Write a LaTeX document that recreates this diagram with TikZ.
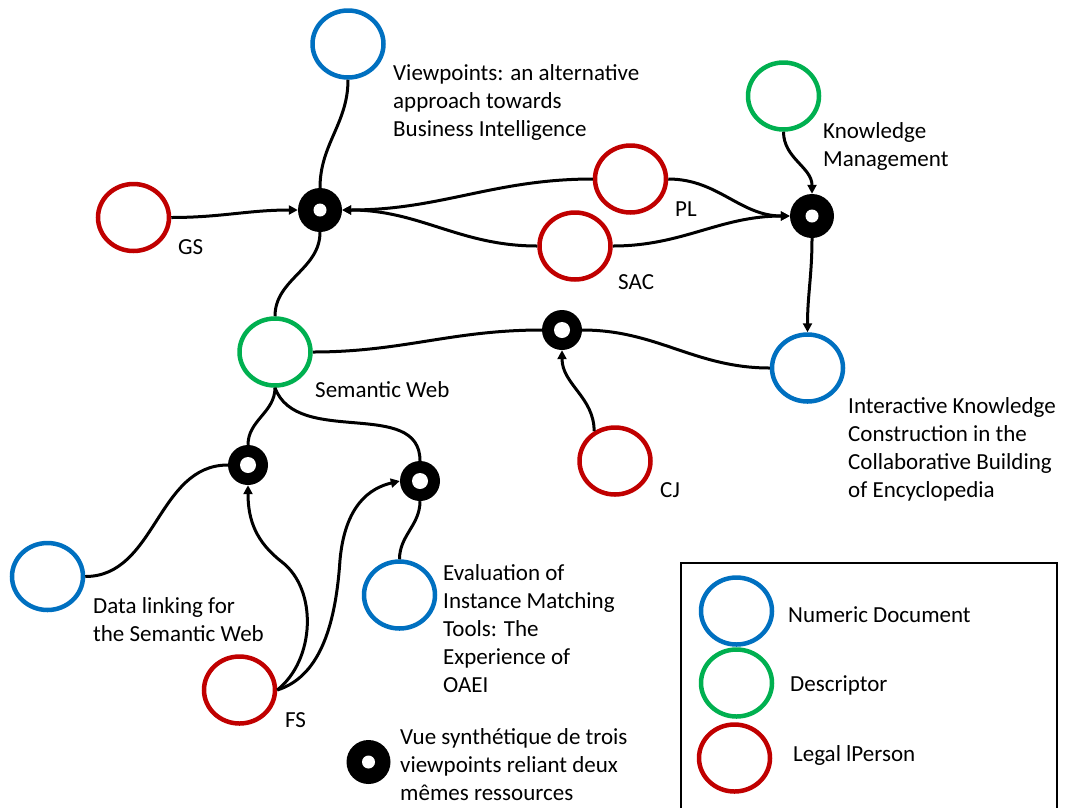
\documentclass[tikz,border=0pt]{standalone}
\usepackage{fontspec}
\setmainfont{Carlito}
\usetikzlibrary{arrows.meta,shapes.geometric}
\definecolor{docblue}{RGB}{0,112,192}
\definecolor{descgreen}{RGB}{0,176,80}
\definecolor{persred}{RGB}{192,0,0}
\tikzset{
  res/.style={ellipse, draw, line width=4.5pt, minimum width=71pt, minimum height=67pt, inner sep=0pt},
  doc/.style={res, draw=docblue},
  desc/.style={res, draw=descgreen},
  pers/.style={res, draw=persred},
  hubbig/.style={circle, fill=black, minimum size=44pt, inner sep=0pt,
    path picture={\fill[white] (path picture bounding box.center) circle (6.5pt);}},
  hubsmall/.style={circle, fill=black, minimum size=40pt, inner sep=0pt,
    path picture={\fill[white] (path picture bounding box.center) circle (8pt);}},
  lbl/.style={inner sep=0pt, anchor=west, align=left, font=\fontsize{23}{28}\selectfont},
  link/.style={line width=3pt, black},
  arr/.style={link, -{Triangle[length=9pt,width=9pt]}},
}
\begin{document}
\begin{tikzpicture}[x=1pt,y=-1pt]
\useasboundingbox (0,0) rectangle (1065,807);
% resources
\node[doc]  (vp)  at (348,44) {};
\node[pers] (gs)  at (133.5,217.5) {};
\node[pers] (pl)  at (630.5,179) {};
\node[pers] (sac) at (575,246) {};
\node[desc] (km)  at (783.5,96) {};
\node[desc] (sw)  at (275,352) {};
\node[doc]  (ikc) at (807.5,368) {};
\node[pers] (cj)  at (615,461) {};
\node[doc]  (dl)  at (47.5,576.5) {};
\node[doc]  (ev)  at (399.5,595) {};
\node[pers] (fs)  at (239.5,690) {};
% hubs
\node[hubbig]   (h1) at (320,210) {};
\node[hubbig]   (h2) at (812,216) {};
\node[hubsmall] (h3) at (562,330) {};
\node[hubsmall] (h4) at (248,465) {};
\node[hubsmall] (h5) at (420,481) {};
% labels
\node[lbl] (tvp)  at (393,102) {Viewpoints: an alternative\\approach towards\\Business Intelligence};
\node[lbl] (tgs)  at (178,247) {GS};
\node[lbl] (tpl)  at (675,209) {PL};
\node[lbl] (tsac) at (618,282) {SAC};
\node[lbl] (tkm)  at (823,146) {Knowledge\\Management};
\node[lbl] (tsw)  at (315,390) {Semantic Web};
\node[lbl] (tikc) at (848,449) {Interactive Knowledge\\Construction in the\\Collaborative Building\\of Encyclopedia};
\node[lbl] (tcj)  at (660,490) {CJ};
\node[lbl] (tdl)  at (93,620) {Data linking for\\the Semantic Web};
\node[lbl] (tev)  at (443,629) {Evaluation of\\Instance Matching\\Tools: The\\Experience of\\OAEI};
\node[lbl] (tfs)  at (285,720) {FS};
% connectors
\draw[link] (vp.south) to[out=-90,in=90] (h1.north);
\draw[link] (h1.south) to[out=-90,in=90] (sw.north);
\draw[arr]  (gs.east) to[out=0,in=180] (h1.west);
\draw[arr]  (pl.west) to[out=180,in=0] (h1.east);
\draw[arr]  (sac.west) to[out=180,in=0] (h1.east);
\draw[arr]  (pl.east) to[out=0,in=180] (h2.west);
\draw[arr]  (sac.east) to[out=0,in=180] (h2.west);
\draw[arr]  (km.south) to[out=-90,in=90] (h2.north);
\draw[arr]  (h2.south) to[out=-90,in=90] (ikc.north);
\draw[link] (sw.east) to[out=0,in=180] (h3.west);
\draw[link] (h3.east) to[out=0,in=180] (ikc.west);
\draw[arr]  (cj.125) to[out=90,in=-90] (h3.south);
\draw[link] (sw.south) to[out=-90,in=90] (h4.north);
\draw[link] (sw.south) to[out=-70,in=90] (h5.north);
\draw[link] (dl.east) to[out=0,in=180] (h4.west);
\draw[arr]  (fs.east) .. controls (315,660) and (318,590) .. (282,562)
                      .. controls (256,542) and (248,520) .. (h4.south);
\draw[arr]  (fs.east) .. controls (322,676) and (336,620) .. (340,560)
                      .. controls (345,505) and (370,488) .. (h5.west);
\draw[link] (ev.north) to[out=90,in=-90] (h5.south);
% legend
\draw[line width=1.5pt] (681,810) -- (681,563) -- (1057,563) -- (1057,810);
\node[doc]  (ldoc)  at (736.5,611) {};
\node[desc] (ldesc) at (736.5,683) {};
\node[pers] (lpers) at (734.5,758) {};
\node[lbl] (tldoc)  at (788,615) {Numeric Document};
\node[lbl] (tldesc) at (790,685) {Descriptor};
\node[lbl] (tlpers) at (793,755) {Legal lPerson};
\node[hubbig] (lhub) at (368.5,762) {};
\node[lbl] (tlhub) at (400,765) {Vue synthétique de trois\\viewpoints reliant deux\\mêmes ressources};
\end{tikzpicture}
\end{document}
